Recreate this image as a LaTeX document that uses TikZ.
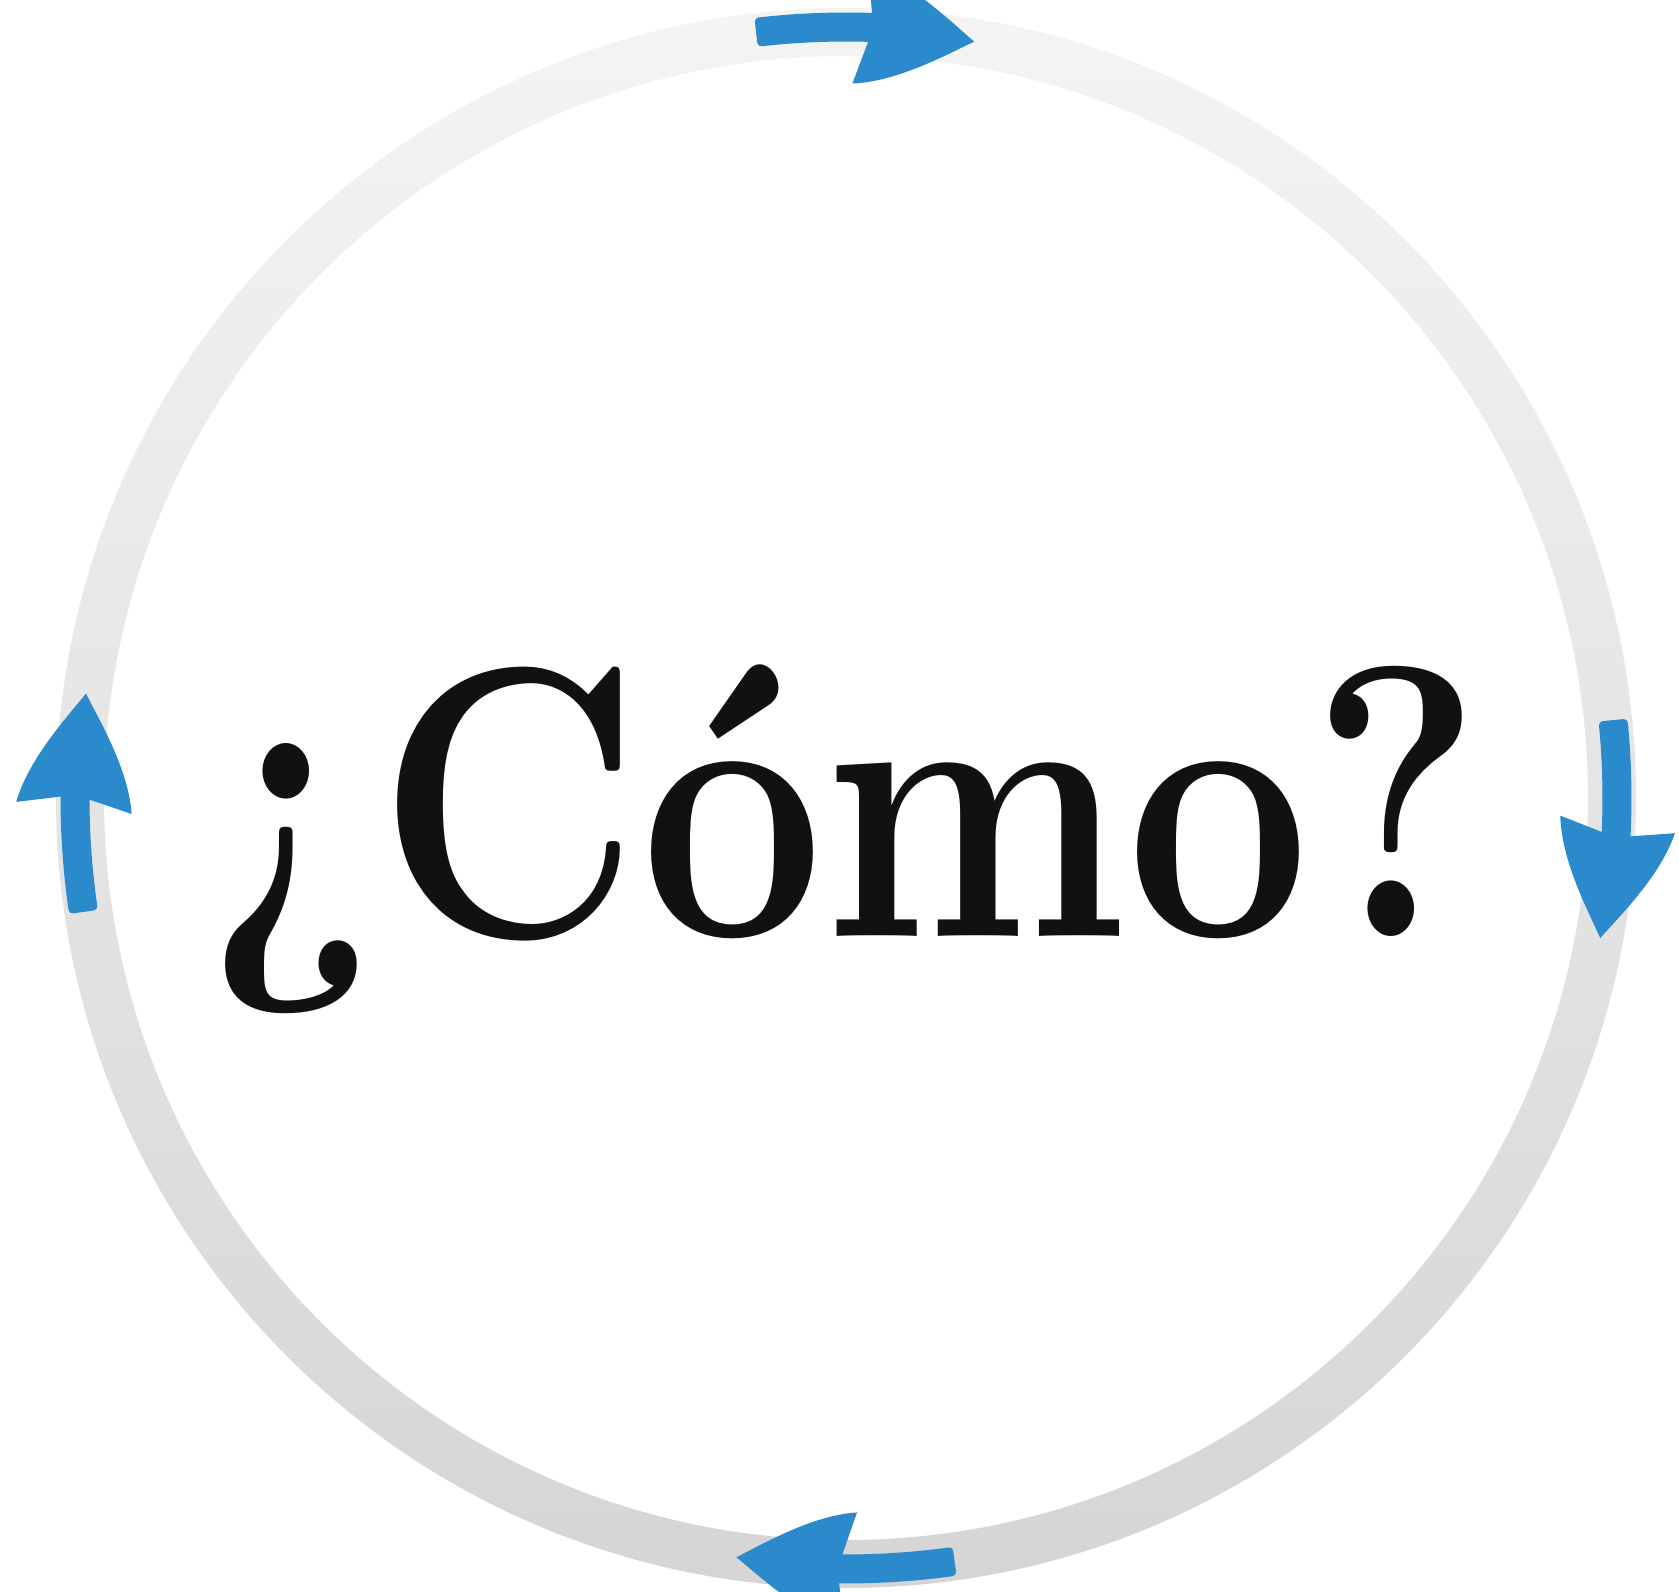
\documentclass[tikz,border=0pt]{standalone}
\definecolor{arrowblue}{RGB}{43,138,204}
\definecolor{ringtop}{RGB}{244,244,244}
\definecolor{ringbot}{RGB}{213,213,213}
\definecolor{inkblack}{RGB}{17,17,17}
\newcommand{\cyclearrow}[1]{%
  \begin{scope}[shift={(846,793)}]
    \filldraw[arrowblue, line width=8, line join=round]
      (#1-1:760.5) arc[start angle=#1-1, end angle=#1+8.2, radius=760.5]
      -- (#1+8.2:781.5) arc[start angle=#1+8.2, end angle=#1-1, radius=781.5] -- cycle;
    \begin{scope}[shift={(#1:771)}, rotate=#1-96]
      \fill[arrowblue] (0,-14) -- (-10,-58)
        .. controls (35,-50) and (80,-16) .. (105,0)
        .. controls (80,16) and (35,50) .. (-10,58) -- (0,14) -- cycle;
    \end{scope}
  \end{scope}}
\begin{document}
\begin{tikzpicture}[x=1pt,y=1pt]
  \useasboundingbox (0,0) rectangle (1679,1591);
  \clip (0,0) rectangle (1679,1591);
  \fill[white] (0,0) rectangle (1679,1591);
  \shade[top color=ringtop, bottom color=ringbot, even odd rule]
    (846,793) circle[radius=790] (846,793) circle[radius=742];
  \cyclearrow{88.2}
  \cyclearrow{-2.7}
  \cyclearrow{-90.4}
  \cyclearrow{-180}
  \node[anchor=base, inner sep=0, text=inkblack, font=\fontsize{386}{400}\selectfont\bfseries, xscale=0.84] (como) at (844,654) {¿Cómo?};
\end{tikzpicture}
\end{document}
